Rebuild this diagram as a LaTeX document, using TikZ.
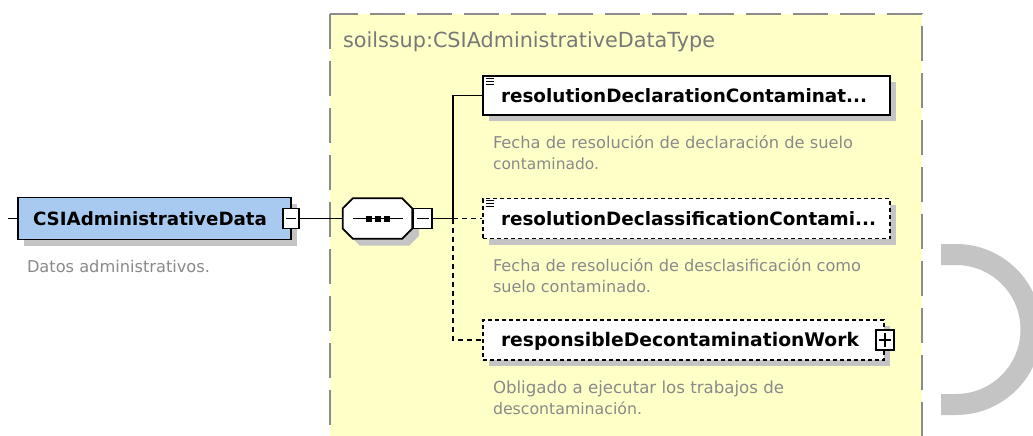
\documentclass[tikz,border=0pt]{standalone}
\usepackage{fontspec}
\setmainfont{DejaVu Sans}
\usetikzlibrary{calc,shadows}
\definecolor{elblue}{HTML}{A8CAF0}
\definecolor{cyellow}{HTML}{FFFFC8}
\definecolor{bordergray}{HTML}{8C8C8C}
\definecolor{txtgray}{HTML}{8A8A8A}
\definecolor{titlegray}{HTML}{787878}
\definecolor{shadowgray}{HTML}{C4C4C4}
\newcommand{\fitw}[2]{\resizebox{#1pt}{!}{#2}}
\tikzset{
  shad/.style={drop shadow={shadow xshift=6pt,shadow yshift=-6pt,fill=shadowgray,opacity=1}},
  elbox/.style={draw=black,line width=1.8pt,fill=elblue,minimum width=273pt,minimum height=42pt,inner sep=0pt,shad},
  childbox/.style={draw=black,line width=1.8pt,fill=white,minimum height=40pt,inner sep=0pt,shad},
  optbox/.style={childbox,dash pattern=on 4pt off 3pt},
  pmbox/.style={draw=black,line width=1.4pt,fill=white,minimum width=16pt,minimum height=20pt,inner sep=0pt},
  conn/.style={line width=1.8pt,black},
  optconn/.style={conn,dash pattern=on 5pt off 4pt},
  label/.style={anchor=base west,inner sep=0pt,outer sep=0pt},
  desc/.style={label,text=txtgray},
}
\begin{document}
\begin{tikzpicture}[x=1pt,y=-1pt]
\clip (0,0) rectangle (1033,436);
\fill[white] (0,0) rectangle (1033,436);
% complex type area
\draw[fill=cyellow,draw=bordergray,line width=2.5pt,dash pattern=on 35pt off 12pt] (330,14) rectangle (922,470);
\node[label,text=titlegray] (title) at (343,48) {\fitw{372}{soilssup:CSIAdministrativeDataType}};
% gray half ring
\draw[shadowgray,line width=21pt] (941,254.5) -- (956,254.5) arc[start angle=90,end angle=-90,radius=75pt] -- (941,404.5);
% main element
\coordinate (inL) at (8,218.5);
\node[elbox] (el) at (154.5,218.5) {};
\node[label] (eltxt) at (33,225) {\fitw{234}{\bfseries CSIAdministrativeData}};
\node[pmbox] (elminus) at (291,218.5) {};
\draw[line width=1.4pt] ($(elminus.center)+(-5,0)$) -- ($(elminus.center)+(5,0)$);
\node[desc] (eldesc) at (27,272) {\fitw{183}{Datos administrativos.}};
\draw[conn] (inL) -- (el.west);
% sequence compositor
\node[minimum width=69pt,minimum height=40pt,inner sep=0pt] (seq) at (377.5,218.5) {};
\fill[shadowgray] ($(seq.north west)+(17,7)$) -- ($(seq.north east)+(-3,7)$) -- ($(seq.north east)+(7,17)$) -- ($(seq.south east)+(7,-3)$) -- ($(seq.south east)+(-3,7)$) -- ($(seq.south west)+(17,7)$) -- ($(seq.south west)+(7,-3)$) -- ($(seq.north west)+(7,17)$) -- cycle;
\draw[fill=white,line width=1.8pt] ($(seq.north west)+(10,0)$) -- ($(seq.north east)+(-10,0)$) -- ($(seq.north east)+(0,10)$) -- ($(seq.south east)+(0,-10)$) -- ($(seq.south east)+(-10,0)$) -- ($(seq.south west)+(10,0)$) -- ($(seq.south west)+(0,-10)$) -- ($(seq.north west)+(0,10)$) -- cycle;
\draw[line width=1.4pt] ($(seq.center)+(-25,0)$) -- ($(seq.center)+(25,0)$);
\foreach \dx in {-9,0,9} \fill ($(seq.center)+(\dx-3,-3)$) rectangle ($(seq.center)+(\dx+3,3)$);
\node[pmbox,minimum width=19pt] (seqminus) at (422.5,218.5) {};
\draw[line width=1.4pt] ($(seqminus.center)+(-6,0)$) -- ($(seqminus.center)+(6,0)$);
\draw[conn] (elminus.east) -- (seq.west);
% children
\coordinate (bus) at (453,218.5);
\node[childbox,minimum width=407pt,minimum height=39pt] (c1) at (686.5,95.5) {};
\node[optbox,minimum width=407pt] (c2) at (686.5,218.5) {};
\node[optbox,minimum width=401pt] (c3) at (683.5,340) {};
\foreach \b in {c1,c2} \foreach \k in {0,3,6} \draw[line width=1.1pt] ($(\b.north west)+(4,3+\k)$) -- ($(\b.north west)+(12,3+\k)$);
\node[label] (c1txt) at (501,102.5) {\fitw{366}{\bfseries resolutionDeclarationContaminat...}};
\node[label] (c2txt) at (501,225) {\fitw{375}{\bfseries resolutionDeclassificationContami...}};
\node[label] (c3txt) at (501,346.5) {\fitw{358}{\bfseries responsibleDecontaminationWork}};
\node[pmbox,minimum width=18pt] (c3plus) at (c3.east) {};
\draw[line width=1.4pt] ($(c3plus.center)+(-6,0)$) -- ($(c3plus.center)+(6,0)$) ($(c3plus.center)+(0,-7)$) -- ($(c3plus.center)+(0,7)$);
\node[desc] (d1a) at (493,148) {\fitw{360}{Fecha de resolución de declaración de suelo}};
\node[desc] (d1b) at (493,169) {\fitw{106}{contaminado.}};
\node[desc] (d2a) at (493,271) {\fitw{368}{Fecha de resolución de desclasificación como}};
\node[desc] (d2b) at (493,292) {\fitw{158}{suelo contaminado.}};
\node[desc] (d3a) at (493,393) {\fitw{291}{Obligado a ejecutar los trabajos de}};
\node[desc] (d3b) at (493,414) {\fitw{149}{descontaminación.}};
% connectors
\draw[conn] (seqminus.east) -- (bus);
\draw[conn] (bus) |- (c1.west);
\draw[optconn] (bus) -- (c2.west);
\draw[optconn] (bus) |- (c3.west);
\end{tikzpicture}
\end{document}
